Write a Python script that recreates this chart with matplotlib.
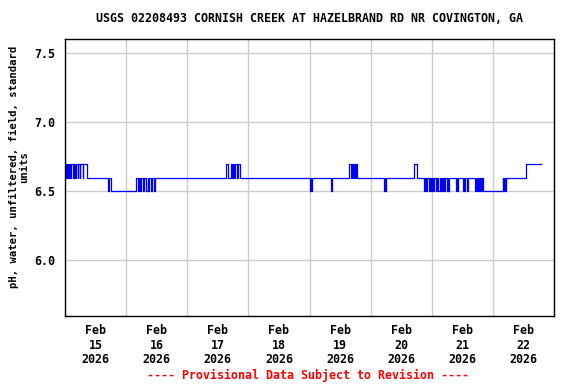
import matplotlib
matplotlib.use("Agg")
import matplotlib.pyplot as plt
import matplotlib.dates as mdates
import numpy as np
import pandas as pd

# pH readings as step change points (hours after 2026-02-15 00:00, value)
change_hours = [0.0, 0.5, 0.75, 1.25, 1.5, 2.0, 2.5, 3.0, 3.5, 4.0, 4.5, 5.0, 5.25, 5.75, 6.0, 7.0, 7.25, 8.5,
                16.7, 17.45, 18.0, 28.0, 28.6, 29.2, 29.6, 30.0, 30.6, 31.2, 31.8, 32.4, 32.7, 33.1, 33.7, 34.3, 35.0, 35.5,
                63.2, 64.0, 65.0, 65.4, 65.8, 66.3, 66.7, 67.6, 67.9, 68.6,
                96.3, 96.6, 96.7, 96.9, 104.5, 104.8,
                111.7, 112.2, 112.5, 113.0, 113.3, 114.0, 114.2, 114.6,
                125.4, 125.7, 125.8, 126.1, 137.2, 138.1,
                140.9, 141.3, 141.6, 142.0, 142.9, 143.2, 143.7, 144.0, 144.6, 145.0, 145.6, 146.0,
                146.6, 147.3, 147.5, 147.9, 148.1, 148.5, 148.7, 149.2, 149.9, 150.2, 150.5, 150.8,
                153.5, 153.8, 154.0, 154.3, 156.2, 156.5, 156.8, 157.1, 157.7, 158.1,
                161.0, 161.3, 161.6, 161.9, 162.3, 162.6, 162.9, 163.2, 163.6, 163.9, 164.2,
                171.8, 172.1, 172.4, 172.7, 173.1, 181.0, 186.7]
ph_values = [6.7, 6.6, 6.7, 6.6, 6.7, 6.6, 6.7, 6.6, 6.7, 6.6, 6.7, 6.6, 6.7, 6.6, 6.7, 6.6, 6.7, 6.6,
             6.5, 6.6, 6.5, 6.6, 6.5, 6.6, 6.5, 6.6, 6.5, 6.6, 6.5, 6.6, 6.5, 6.6, 6.5, 6.6, 6.5, 6.6,
             6.7, 6.6, 6.7, 6.6, 6.7, 6.6, 6.7, 6.6, 6.7, 6.6,
             6.5, 6.6, 6.5, 6.6, 6.5, 6.6,
             6.7, 6.6, 6.7, 6.6, 6.7, 6.6, 6.7, 6.6,
             6.5, 6.6, 6.5, 6.6, 6.7, 6.6,
             6.5, 6.6, 6.5, 6.6, 6.5, 6.6, 6.5, 6.6, 6.5, 6.6, 6.5, 6.6,
             6.5, 6.6, 6.5, 6.6, 6.5, 6.6, 6.5, 6.6, 6.5, 6.6, 6.5, 6.6,
             6.5, 6.6, 6.5, 6.6, 6.5, 6.6, 6.5, 6.6, 6.5, 6.6,
             6.5, 6.6, 6.5, 6.6, 6.5, 6.6, 6.5, 6.6, 6.5, 6.6, 6.5,
             6.6, 6.5, 6.6, 6.5, 6.6, 6.7, 6.7]

title = "USGS 02208493 CORNISH CREEK AT HAZELBRAND RD NR COVINGTON, GA"
ylabel = "pH, water, unfiltered, field, standard\nunits"
y_ticks = [6.0, 6.5, 7.0, 7.5]

start = pd.Timestamp("2026-02-15")
times = start + pd.to_timedelta(change_hours, unit="h")

font = "DejaVu Sans Mono"
fs = 8.4

fig = plt.figure(figsize=(5.76, 3.84), dpi=100)
ax = fig.add_axes([65/576, 1-316/384, (554-65)/576, (316-39)/384])

ax.plot(times, ph_values, drawstyle="steps-post", color="#0000ff", lw=0.9)

ax.set_xlim(start, start + pd.Timedelta(days=8))
ax.set_ylim(5.596, 7.604)

# gridlines at midnight, labels at noon
ax.xaxis.set_major_locator(mdates.DayLocator())
ax.xaxis.set_major_formatter(plt.NullFormatter())
ax.xaxis.set_minor_locator(mdates.HourLocator(byhour=[12]))
ax.xaxis.set_minor_formatter(mdates.DateFormatter("%b\n%d\n%Y"))
ax.tick_params(axis="x", which="both", length=0)
ax.tick_params(axis="x", which="minor", pad=6)
ax.set_yticks(y_ticks)
ax.set_yticklabels(["%.1f" % v for v in y_ticks])
ax.tick_params(axis="y", length=0, pad=7)
ax.grid(True, which="major", color="#cccccc", lw=1)
ax.set_axisbelow(True)

for lab in ax.get_xticklabels(which="minor"):
    lab.set_fontfamily(font)
    lab.set_fontweight("bold")
    lab.set_fontsize(fs)
    lab.set_linespacing(1.12)
for lab in ax.get_yticklabels():
    lab.set_fontfamily(font)
    lab.set_fontweight("bold")
    lab.set_fontsize(fs)

for s in ax.spines.values():
    s.set_color("black")
    s.set_linewidth(1)

fig.text(309.5/576, 1-19/384, title, ha="center", va="center",
         fontfamily=font, fontweight="bold", fontsize=fs)
fig.text(19/576, 1-167/384, ylabel, ha="center", va="center", rotation=90,
         fontfamily=font, fontweight="bold", fontsize=7.6, linespacing=1.05)
fig.text(308/576, 1-375/384, "---- Provisional Data Subject to Revision ----",
         ha="center", va="center", color="red",
         fontfamily=font, fontweight="bold", fontsize=fs)

fig.savefig("out.png", dpi=100)
